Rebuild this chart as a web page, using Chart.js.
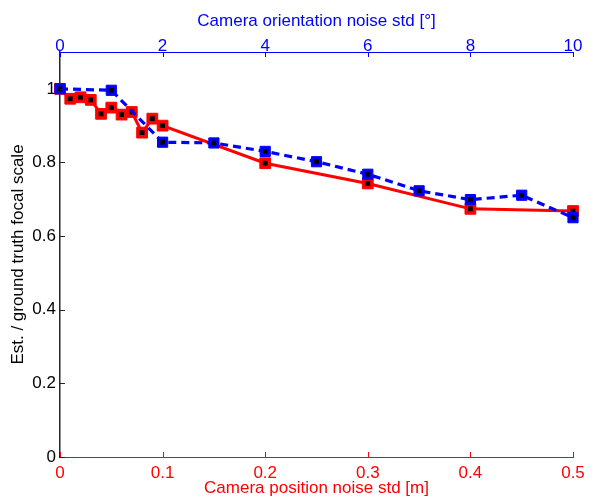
<!DOCTYPE html>
<html>
<head>
<meta charset="utf-8">
<script src="https://cdn.jsdelivr.net/npm/chart.js@4.4.1/dist/chart.umd.min.js"></script>
<style>
  body { margin: 0; background: #fff; }
  canvas { display: block; }
</style>
</head>
<body>
<canvas id="focalChart" width="597" height="498"></canvas>
<script>
// position noise (bottom axis, m)
var posNoise = [0, 0.01, 0.02, 0.03, 0.04, 0.05, 0.06, 0.07, 0.08, 0.09, 0.1, 0.2, 0.3, 0.4, 0.5];
var posScale = [1.0, 0.973, 0.977, 0.970, 0.932, 0.949, 0.930, 0.937, 0.881, 0.919, 0.900, 0.798, 0.743, 0.674, 0.668];

// orientation noise (top axis, degrees)
var oriNoise = [0, 1, 2, 3, 4, 5, 6, 7, 8, 9, 10];
var oriScale = [1.0, 0.996, 0.855, 0.853, 0.830, 0.802, 0.768, 0.723, 0.699, 0.711, 0.650];

var yTicks = [0, 0.2, 0.4, 0.6, 0.8, 1];
var posTicks = [0, 0.1, 0.2, 0.3, 0.4, 0.5];
var oriTicks = [0, 2, 4, 6, 8, 10];

var RED = 'rgb(255,0,0)';
var BLUE = 'rgb(0,0,255)';
var AXIS = '#262626';
var FONT = "'Liberation Sans', Arial, sans-serif";
var FSIZE = 17;

function pts(xs, ys) {
    return xs.map((x, i) => ({ x: x, y: ys[i] }));
}

function fixTicks(list) {
    return function (scale) {
        scale.ticks = list.map(v => ({ value: v }));
    };
}

function label(v) {
    return String(Math.round(v * 100) / 100);
}

// small inward tick marks like matlab
var innerTicks = {
    id: 'innerTicks',
    afterDraw(chart) {
        var ctx = chart.ctx;
        var len = 5;
        ctx.save();
        ctx.lineWidth = 1;
        var y = chart.scales.y;
        ctx.strokeStyle = AXIS;
        yTicks.forEach(v => {
            var py = Math.round(y.getPixelForValue(v)) + 0.5;
            ctx.beginPath();
            ctx.moveTo(y.right, py);
            ctx.lineTo(y.right + len, py);
            ctx.stroke();
        });
        var xb = chart.scales.x;
        ctx.strokeStyle = RED;
        posTicks.forEach(v => {
            var px = Math.round(xb.getPixelForValue(v)) + 0.5;
            ctx.beginPath();
            ctx.moveTo(px, xb.top);
            ctx.lineTo(px, xb.top - len);
            ctx.stroke();
        });
        var xt = chart.scales.x2;
        ctx.strokeStyle = BLUE;
        oriTicks.forEach(v => {
            var px = Math.round(xt.getPixelForValue(v)) + 0.5;
            ctx.beginPath();
            ctx.moveTo(px, xt.bottom);
            ctx.lineTo(px, xt.bottom + len);
            ctx.stroke();
        });
        ctx.restore();
    }
};

var chart = new Chart(document.getElementById('focalChart'), {
    type: 'line',
    data: {
        datasets: [
            {
                label: 'orientation dots',
                data: pts(oriNoise, oriScale),
                xAxisID: 'x2',
                showLine: false,
                pointStyle: 'rect',
                pointRadius: 3.4,
                pointBorderWidth: 0,
                pointBackgroundColor: '#000',
                clip: false
            },
            {
                label: 'orientation',
                data: pts(oriNoise, oriScale),
                xAxisID: 'x2',
                borderColor: BLUE,
                borderWidth: 3.2,
                borderDash: [8, 5],
                pointStyle: 'rect',
                pointRadius: 7.2,
                pointBorderWidth: 1,
                pointBackgroundColor: BLUE,
                pointBorderColor: BLUE,
                clip: false
            },
            {
                label: 'position dots',
                data: pts(posNoise, posScale),
                xAxisID: 'x',
                showLine: false,
                pointStyle: 'rect',
                pointRadius: 3.4,
                pointBorderWidth: 0,
                pointBackgroundColor: '#000',
                clip: false
            },
            {
                label: 'position',
                data: pts(posNoise, posScale),
                xAxisID: 'x',
                borderColor: RED,
                borderWidth: 3,
                pointStyle: 'rect',
                pointRadius: 7.6,
                pointBorderWidth: 1,
                pointBackgroundColor: RED,
                pointBorderColor: RED,
                clip: false
            }
        ]
    },
    options: {
        responsive: false,
        animation: false,
        devicePixelRatio: 1,
        layout: { padding: { top: 0, right: 24, bottom: 0, left: 0 } },
        plugins: {
            legend: { display: false },
            tooltip: { enabled: false }
        },
        scales: {
            x: {
                type: 'linear',
                position: 'bottom',
                min: 0,
                max: 0.5,
                afterBuildTicks: fixTicks(posTicks),
                afterFit(s) { s.height = 41; },
                grid: { display: false, drawTicks: false },
                border: { display: true, color: RED, width: 1 },
                ticks: {
                    color: RED,
                    padding: 6.5,
                    maxRotation: 0,
                    font: { family: FONT, size: FSIZE },
                    callback: label
                },
                title: {
                    display: true,
                    text: 'Camera position noise std [m]',
                    color: RED,
                    padding: { top: 0, bottom: -0.5 },
                    font: { family: FONT, size: FSIZE }
                }
            },
            x2: {
                type: 'linear',
                position: 'top',
                min: 0,
                max: 10,
                afterBuildTicks: fixTicks(oriTicks),
                afterFit(s) { s.height = 52; },
                grid: { display: false, drawTicks: false },
                border: { display: true, color: BLUE, width: 1 },
                ticks: {
                    color: BLUE,
                    padding: -4.5,
                    maxRotation: 0,
                    font: { family: FONT, size: FSIZE },
                    callback: label
                },
                title: {
                    display: true,
                    text: 'Camera orientation noise std [°]',
                    color: BLUE,
                    padding: { top: 11.5, bottom: 0 },
                    font: { family: FONT, size: FSIZE }
                }
            },
            y: {
                type: 'linear',
                position: 'left',
                min: 0,
                max: 1.1,
                afterBuildTicks: fixTicks(yTicks),
                afterFit(s) { s.width = 60; },
                grid: { display: false, drawTicks: false },
                border: { display: true, color: AXIS, width: 1.5 },
                ticks: {
                    color: '#000',
                    padding: 4,
                    font: { family: FONT, size: FSIZE },
                    callback: label
                },
                title: {
                    display: true,
                    text: 'Est. / ground truth focal scale',
                    color: '#000',
                    padding: { top: 8.5, bottom: 0 },
                    font: { family: FONT, size: FSIZE }
                }
            }
        }
    },
    plugins: [innerTicks]
});
</script>
</body>
</html>
